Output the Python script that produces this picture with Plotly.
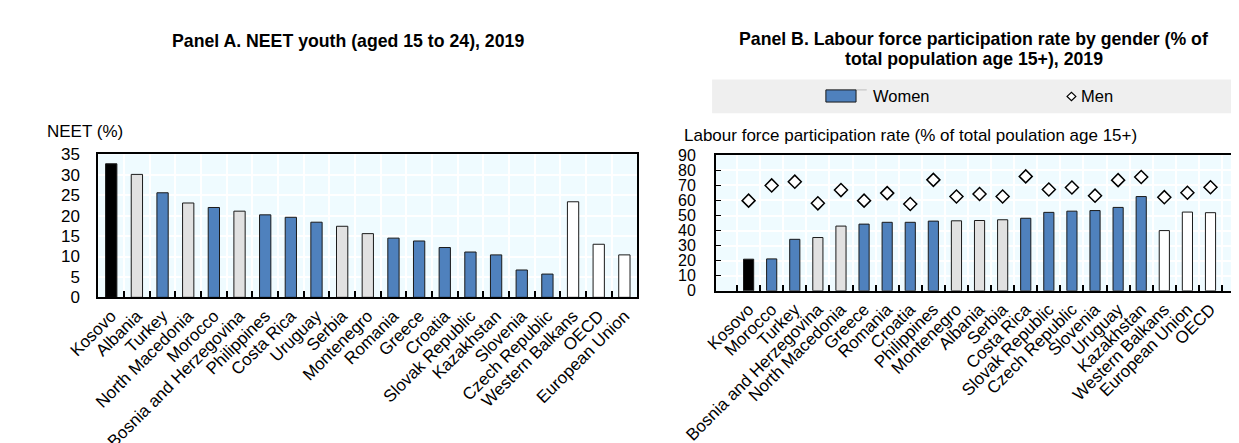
import plotly.graph_objects as go

W, H = 1239, 443

# ---------------- Data ----------------
cats_a = ["Kosovo", "Albania", "Turkey", "North Macedonia", "Morocco",
          "Bosnia and Herzegovina", "Philippines", "Costa Rica", "Uruguay", "Serbia",
          "Montenegro", "Romania", "Greece", "Croatia", "Slovak Republic",
          "Kazakhstan", "Slovenia", "Czech Republic", "Western Balkans", "OECD",
          "European Union"]
neet = [32.7, 30.1, 25.6, 23.1, 22.0, 21.1, 20.2, 19.6, 18.4, 17.4,
        15.6, 14.5, 13.8, 12.2, 11.1, 10.4, 6.7, 5.7, 23.4, 13.0, 10.4]

cats_b = ["Kosovo", "Morocco", "Turkey", "Bosnia and Herzegovina", "North Macedonia",
          "Greece", "Romania", "Croatia", "Philippines", "Montenegro", "Albania",
          "Serbia", "Costa Rica", "Slovak Republic", "Czech Republic", "Slovenia",
          "Uruguay", "Kazakhstan", "Western Balkans", "European Union", "OECD"]
women = [21.0, 21.2, 34.2, 35.4, 43.0, 44.3, 45.5, 45.5, 46.3, 46.5, 46.7,
         47.2, 48.2, 52.1, 52.9, 53.3, 55.4, 62.6, 40.0, 52.3, 51.9]
men = [59.9, 70.0, 72.5, 58.1, 66.9, 59.9, 64.9, 57.7, 73.7, 62.6, 64.3,
       62.6, 76.0, 67.3, 68.6, 63.2, 73.5, 75.6, 62.2, 65.1, 68.8]

highlight = ["Kosovo"]
wb_peers = ["Albania", "North Macedonia", "Bosnia and Herzegovina", "Serbia", "Montenegro"]
aggregates = ["Western Balkans", "OECD", "European Union"]

# ---------------- Style ----------------
BLUE = "#4f81bd"
GREY = "#e1e1e1"
BLACK = "#000000"
WHITE = "#ffffff"
PLOTBG = "#effbff"
FONT = "Liberation Sans, Arial, sans-serif"
S_TICK_A, S_TICK_B, S_XT, S_AX, S_LEG, S_TIT = 17, 16, 17, 17, 16.5, 17.7


def colour(c):
    if c in highlight:
        return BLACK
    if c in wb_peers:
        return GREY
    if c in aggregates:
        return WHITE
    return BLUE


def px_x(p):
    return p / W


def px_y(p):
    return 1 - p / H


fig = go.Figure()

fig.add_trace(go.Bar(
    x=cats_a, y=neet, xaxis="x", yaxis="y", width=0.44,
    marker=dict(color=[colour(c) for c in cats_a], line=dict(color="#1a1a1a", width=1)),
    name="NEET", showlegend=False))

fig.add_trace(go.Bar(
    x=cats_b, y=women, xaxis="x2", yaxis="y2", width=0.44,
    marker=dict(color=[colour(c) for c in cats_b], line=dict(color="#1a1a1a", width=1)),
    name="Women", showlegend=False))

fig.add_trace(go.Scatter(
    x=cats_b, y=men, xaxis="x2", yaxis="y2", mode="markers",
    marker=dict(symbol="diamond", size=10, color=WHITE, line=dict(color=BLACK, width=1.5)),
    name="Men", showlegend=False))

xcommon = dict(type="category", tickangle=-45, ticks="inside", tickson="boundaries",
               ticklen=6, tickwidth=1.5, tickcolor=BLACK,
               showgrid=True, gridcolor=WHITE, gridwidth=1.5,
               showline=True, linecolor=BLACK, linewidth=2, mirror=True,
               tickfont=dict(family=FONT, size=S_XT, color="#000"))
ycommon = dict(showgrid=True, gridcolor=WHITE, gridwidth=1.5,
               showline=True, linecolor=BLACK, linewidth=2, mirror=True,
               zeroline=False)

fig.update_layout(
    width=W, height=H,
    margin=dict(l=0, r=0, t=0, b=0),
    paper_bgcolor=WHITE, plot_bgcolor=PLOTBG,
    bargap=0.5,
    xaxis=dict(domain=[px_x(58), px_x(612)], anchor="y", **xcommon),
    yaxis=dict(domain=[px_y(300), px_y(147)], anchor="x", range=[0, 35], dtick=5,
               ticks="", ticklabelstandoff=13,
               tickfont=dict(family=FONT, size=S_TICK_A, color="#000"), **ycommon),
    xaxis2=dict(domain=[px_x(693), px_x(1235)], anchor="y2", **xcommon),
    yaxis2=dict(domain=[px_y(293), px_y(148)], anchor="x2", range=[0, 90], dtick=10,
                ticks="inside", ticklen=5, tickcolor=BLACK, ticklabelstandoff=15,
                tickfont=dict(family=FONT, size=S_TICK_B, color="#000"), **ycommon),
)

# titles
tfont = dict(family=FONT, size=S_TIT, color="#000")
fig.add_annotation(text="<b>Panel A. NEET youth (aged 15 to 24), 2019</b>",
                   x=px_x(315), y=px_y(26), xref="paper", yref="paper",
                   showarrow=False, xanchor="center", yanchor="middle", font=tfont)
fig.add_annotation(text="<b>Panel B. Labour force participation rate by gender (% of</b>",
                   x=px_x(958), y=px_y(24), xref="paper", yref="paper",
                   showarrow=False, xanchor="center", yanchor="middle", font=tfont)
fig.add_annotation(text="<b>total population age 15+), 2019</b>",
                   x=px_x(958), y=px_y(45), xref="paper", yref="paper",
                   showarrow=False, xanchor="center", yanchor="middle", font=tfont)

# axis titles
fig.add_annotation(text="NEET (%)", x=px_x(3), y=px_y(123), xref="paper", yref="paper",
                   showarrow=False, xanchor="left", yanchor="middle",
                   font=dict(family=FONT, size=S_AX, color="#000"))
fig.add_annotation(text="Labour force participation rate (% of total poulation age 15+)",
                   x=px_x(658), y=px_y(127), xref="paper", yref="paper",
                   showarrow=False, xanchor="left", yanchor="middle",
                   font=dict(family=FONT, size=S_AX, color="#000"))

# legend (manual)
fig.add_shape(type="rect", xref="paper", yref="paper",
              x0=px_x(689), x1=px_x(1239), y0=px_y(103), y1=px_y(67),
              fillcolor="#efefef", line=dict(width=0), layer="below")
fig.add_shape(type="line", xref="paper", yref="paper",
              x0=px_x(837), x1=px_x(848), y0=px_y(78), y1=px_y(78),
              line=dict(color="#bdbdbd", width=1))
fig.add_shape(type="rect", xref="paper", yref="paper",
              x0=px_x(806), x1=px_x(837), y0=px_y(91), y1=px_y(78),
              fillcolor=BLUE, line=dict(color="#1a1a1a", width=1))
fig.add_annotation(text="Women", x=px_x(852), y=px_y(85), xref="paper", yref="paper",
                   showarrow=False, xanchor="left", yanchor="middle",
                   font=dict(family=FONT, size=S_LEG, color="#000"))
cx, cy, r = 1058.5, 85.0, 4.5
fig.add_shape(type="path", xref="paper", yref="paper",
              path=(f"M {px_x(cx - r)},{px_y(cy)} L {px_x(cx)},{px_y(cy - r)} "
                    f"L {px_x(cx + r)},{px_y(cy)} L {px_x(cx)},{px_y(cy + r)} Z"),
              fillcolor=WHITE, line=dict(color=BLACK, width=1.2))
fig.add_annotation(text="Men", x=px_x(1066), y=px_y(85), xref="paper", yref="paper",
                   showarrow=False, xanchor="left", yanchor="middle",
                   font=dict(family=FONT, size=S_LEG, color="#000"))

fig.write_html("out.html")
